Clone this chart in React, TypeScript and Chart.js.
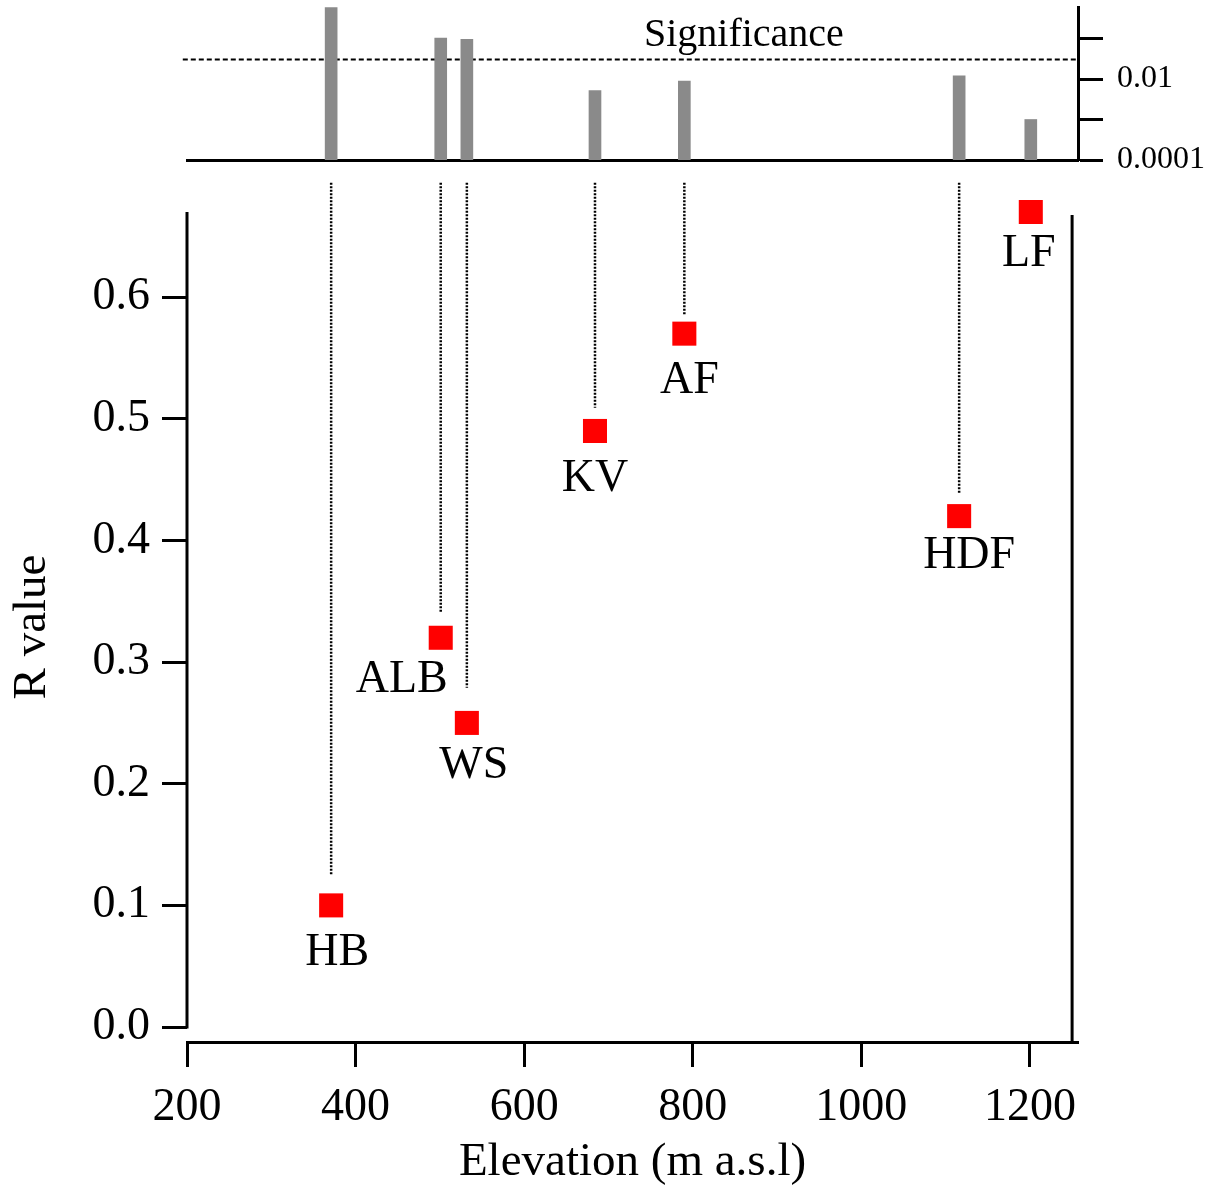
import React, { useEffect, useRef } from "react";
import { Chart, registerables } from "chart.js";

Chart.register(...registerables);

// ---------------- data ----------------
const sites = ["HB", "ALB", "WS", "KV", "AF", "HDF", "LF"];
const elevations = [371, 501, 532, 684, 790, 1116, 1201];
const rValues = [0.1, 0.32, 0.25, 0.49, 0.57, 0.42, 0.67];
const pValues = [0.58, 0.102, 0.096, 0.0052, 0.0089, 0.0119, 0.001];
const significanceLevel = 0.0305;
const xTicks = [200, 400, 600, 800, 1000, 1200];
const yTicks = [0, 0.1, 0.2, 0.3, 0.4, 0.5, 0.6];
const pTicks = [0.0001, 0.001, 0.01, 0.1];
const pTickLabels = ["0.0001", "", "0.01", ""];
// gap (in R units) between connector end and point; null = no connector
const connectorGaps: (number | null)[] = [0.025, 0.021, 0.029, 0.019, 0.016, 0.018, null];

// ---------------- layout / style ----------------
const W = 1218;
const H = 1185;
const FONT = "'Liberation Serif', 'Times New Roman', Times, serif";
const X_MIN = 200;
const X_MAX = 1257;
const Y_MIN = -0.0123;
const Y_MAX = 0.67;
const CONNECTOR_TOP = 0.694;
const RIGHT_FRAME_X = 1250;
const labelOffsets = [
  [6, 48],
  [-39, 42],
  [7, 43],
  [0, 48],
  [5, 47],
  [10, 40],
  [-2, 42],
];

export default function App() {
  const topRef = useRef<HTMLCanvasElement>(null);
  const botRef = useRef<HTMLCanvasElement>(null);

  useEffect(() => {
    Chart.defaults.font.family = FONT;
    Chart.defaults.color = "#000";

    // ---------- top (significance) chart ----------
    const sigTextPlugin = {
      id: "sigText",
      afterDatasetsDraw(chart: any) {
        const { ctx, chartArea } = chart;
        ctx.save();
        ctx.fillStyle = "#000";
        ctx.font = `40px ${FONT}`;
        ctx.textAlign = "center";
        ctx.textBaseline = "middle";
        const x = chartArea.left + 0.625 * (chartArea.right - chartArea.left);
        ctx.fillText("Significance", x, 35);
        ctx.restore();
      },
    };

    const top = new Chart(topRef.current as HTMLCanvasElement, {
      type: "bar",
      data: {
        datasets: [
          {
            type: "bar",
            data: elevations.map((e, i) => ({ x: e, y: pValues[i] })),
            backgroundColor: "#8a8a8a",
            borderWidth: 0,
            barThickness: 12,
          } as any,
          {
            type: "line",
            data: [
              { x: 195, y: significanceLevel },
              { x: X_MAX, y: significanceLevel },
            ],
            borderColor: "#000",
            borderWidth: 2,
            borderDash: [5, 3],
            pointRadius: 0,
            clip: false,
          } as any,
        ],
      },
      options: {
        responsive: false,
        animation: false,
        layout: { padding: { top: 7, left: 187, right: 0, bottom: H - 160 } },
        plugins: { legend: { display: false }, tooltip: { enabled: false } },
        scales: {
          x: {
            type: "linear",
            min: X_MIN,
            max: X_MAX,
            offset: false,
            ticks: { display: false },
            grid: { display: false, offset: false },
            border: { display: true, color: "#000", width: 3 },
            afterFit: (s: any) => {
              s.height = 0;
              s.paddingLeft = 0;
              s.paddingRight = 0;
            },
          },
          y: {
            type: "logarithmic",
            position: "right",
            min: 0.0001,
            max: 0.6,
            afterBuildTicks: (s: any) => {
              s.ticks = pTicks.map((v) => ({ value: v }));
            },
            ticks: {
              font: { size: 32, family: FONT },
              color: "#000",
              padding: 14,
              callback: (_v: any, i: number) => pTickLabels[i],
            },
            grid: {
              display: true,
              drawOnChartArea: false,
              tickLength: 25,
              tickWidth: 3,
              tickColor: "#000",
            },
            border: { display: true, color: "#000", width: 3 },
            afterFit: (s: any) => {
              s.width = W - 1078;
              s.paddingTop = 0;
              s.paddingBottom = 0;
            },
          },
        } as any,
      },
      plugins: [sigTextPlugin],
    } as any);

    // ---------- bottom (R value) chart ----------
    const framePlugin = {
      id: "frameAndLabels",
      afterDatasetsDraw(chart: any) {
        const { ctx, chartArea, scales } = chart;
        const xs = scales.x;
        const ys = scales.y;
        ctx.save();
        ctx.strokeStyle = "#000";
        ctx.lineWidth = 3;
        // left axis line from 0 to top
        ctx.beginPath();
        ctx.moveTo(chartArea.left, ys.getPixelForValue(0) + 1.5);
        ctx.lineTo(chartArea.left, ys.getPixelForValue(Y_MAX));
        ctx.stroke();
        // right frame line
        const rx = xs.getPixelForValue(RIGHT_FRAME_X);
        ctx.beginPath();
        ctx.moveTo(rx, ys.getPixelForValue(Y_MAX) + 3);
        ctx.lineTo(rx, chartArea.bottom);
        ctx.stroke();
        // point labels
        ctx.fillStyle = "#000";
        ctx.font = `46px ${FONT}`;
        ctx.textAlign = "center";
        ctx.textBaseline = "middle";
        sites.forEach((s, i) => {
          const px = xs.getPixelForValue(elevations[i]) + labelOffsets[i][0];
          const py = ys.getPixelForValue(rValues[i]) + labelOffsets[i][1];
          ctx.fillText(s, px, py);
        });
        ctx.restore();
      },
    };

    const connectorSets = elevations
      .map((e, i) => ({ e, i }))
      .filter(({ i }) => connectorGaps[i] !== null)
      .map(({ e, i }) => ({
        type: "line",
        data: [
          { x: e, y: CONNECTOR_TOP },
          { x: e, y: rValues[i] + (connectorGaps[i] as number) },
        ],
        borderColor: "#000",
        borderWidth: 2.5,
        borderDash: [2, 1.5],
        pointRadius: 0,
        clip: false,
      }));

    const bot = new Chart(botRef.current as HTMLCanvasElement, {
      type: "scatter",
      data: {
        datasets: [
          ...(connectorSets as any[]),
          {
            type: "scatter",
            data: elevations.map((e, i) => ({ x: e, y: rValues[i] })),
            backgroundColor: "#ff0000",
            borderWidth: 0,
            pointStyle: "rect",
            pointRadius: 17,
            clip: false,
          } as any,
        ],
      },
      options: {
        responsive: false,
        animation: false,
        layout: { padding: { top: 212, left: 0, right: W - 1078, bottom: 0 } },
        plugins: { legend: { display: false }, tooltip: { enabled: false } },
        scales: {
          x: {
            type: "linear",
            min: X_MIN,
            max: X_MAX,
            afterBuildTicks: (s: any) => {
              s.ticks = xTicks.map((v) => ({ value: v }));
            },
            ticks: {
              font: { size: 46, family: FONT },
              color: "#000",
              padding: 13,
              maxRotation: 0,
              callback: (v: any) => String(v),
            },
            grid: {
              display: true,
              drawOnChartArea: false,
              tickLength: 25,
              tickWidth: 3,
              tickColor: "#000",
            },
            border: { display: true, color: "#000", width: 3 },
            title: {
              display: true,
              text: "Elevation (m a.s.l)",
              font: { size: 47, family: FONT },
              color: "#000",
              padding: { top: 0, bottom: -6 },
            },
            afterFit: (s: any) => {
              s.height = H - 1042;
            },
          },
          y: {
            type: "linear",
            min: Y_MIN,
            max: Y_MAX,
            afterBuildTicks: (s: any) => {
              s.ticks = yTicks.map((v) => ({ value: v }));
            },
            ticks: {
              font: { size: 46, family: FONT },
              color: "#000",
              padding: 12,
              callback: (v: any) => Number(v).toFixed(1),
            },
            grid: {
              display: true,
              drawOnChartArea: false,
              tickLength: 25,
              tickWidth: 3,
              tickColor: "#000",
            },
            border: { display: false },
            title: {
              display: true,
              text: "R value",
              font: { size: 47, family: FONT },
              color: "#000",
              padding: { top: 4, bottom: 4 },
            },
            afterFit: (s: any) => {
              s.width = 187;
            },
          },
        } as any,
      },
      plugins: [framePlugin],
    } as any);

    return () => {
      top.destroy();
      bot.destroy();
    };
  }, []);

  return (
    <div
      style={{
        position: "absolute",
        left: 0,
        top: 0,
        width: W,
        height: H,
        background: "#fff",
      }}
    >
      <canvas
        ref={topRef}
        width={W}
        height={H}
        style={{ position: "absolute", left: 0, top: 0 }}
      />
      <canvas
        ref={botRef}
        width={W}
        height={H}
        style={{ position: "absolute", left: 0, top: 0 }}
      />
    </div>
  );
}
